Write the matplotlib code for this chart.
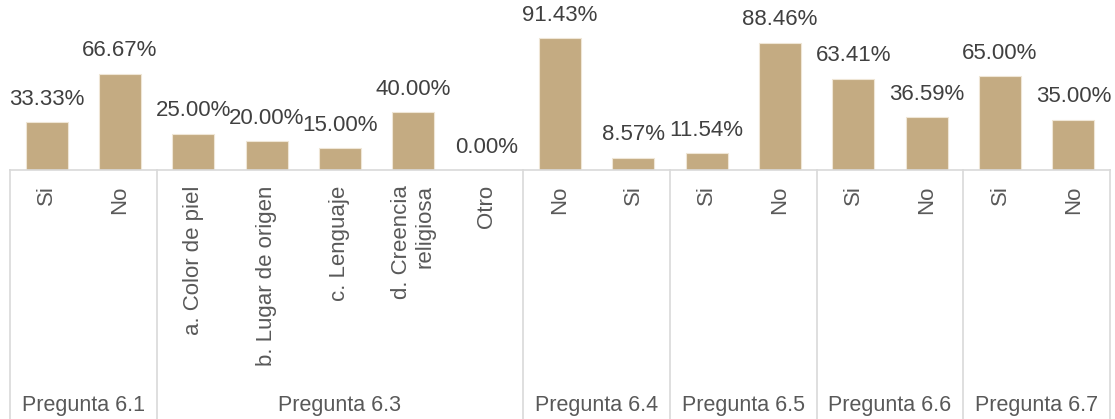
import numpy as np
import matplotlib.pyplot as plt

plt.rcParams['font.family'] = ['Liberation Sans', 'DejaVu Sans']

categories = ['Si', 'No',
              'a. Color de piel', 'b. Lugar de origen', 'c. Lenguaje',
              'd. Creencia\nreligiosa', 'Otro',
              'No', 'Si', 'Si', 'No', 'Si', 'No', 'Si', 'No']
values = [33.33, 66.67, 25.00, 20.00, 15.00, 40.00, 0.00,
          91.43, 8.57, 11.54, 88.46, 63.41, 36.59, 65.00, 35.00]
groups = ['Pregunta 6.1', 'Pregunta 6.3', 'Pregunta 6.4', 'Pregunta 6.5',
          'Pregunta 6.6', 'Pregunta 6.7']
group_sizes = [2, 5, 2, 2, 2, 2]

W, H = 1115, 419
fig = plt.figure(figsize=(W / 100, H / 100), dpi=100)
base_px, top_px = 170, 26
ax = fig.add_axes([10 / W, 1 - base_px / H, 1100 / W, (base_px - top_px) / H])

x = np.arange(len(values))
bars = ax.bar(x, values, width=0.57, color='#c4ab82', edgecolor='#efe6d6', linewidth=0.8)
ax.bar_label(bars, labels=[f'{v:.2f}%' for v in values], padding=9,
             fontsize=16, color='#404040')

ax.set_xlim(-0.5, len(values) - 0.5)
ax.set_ylim(0, 100)
ax.set_yticks([])
for s in ['left', 'right', 'top']:
    ax.spines[s].set_visible(False)
ax.spines['bottom'].set_color('#d9d9d9')
ax.spines['bottom'].set_linewidth(1.2)

ax.set_xticks(x)
ax.set_xticklabels(categories, rotation=90, fontsize=16, color='#595959',
                   va='top', ha='center', multialignment='right')
ax.tick_params(axis='x', length=0, pad=11)

# group separators and group labels below the axis
tr = ax.get_xaxis_transform()
ybot = -(H - base_px) / (base_px - top_px)
bounds = np.concatenate([[0], np.cumsum(group_sizes)]) - 0.5
for b in bounds:
    ax.plot([b, b], [0, ybot], color='#d9d9d9', lw=1.2, transform=tr, clip_on=False)
for g, lo, hi in zip(groups, bounds[:-1], bounds[1:]):
    ax.text((lo + hi) / 2, -(405 - base_px) / (base_px - top_px), g, transform=tr,
            ha='center', va='center', fontsize=15.5, color='#595959')

fig.savefig('out.png', dpi=100)
